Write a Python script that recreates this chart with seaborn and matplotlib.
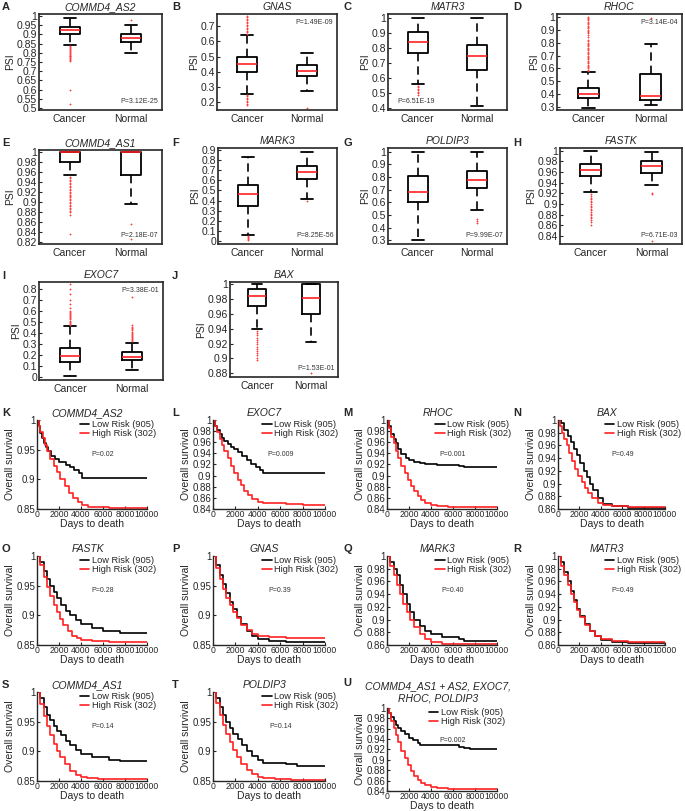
import numpy as np
import pandas as pd
import matplotlib
matplotlib.use("Agg")
import matplotlib.pyplot as plt
import seaborn as sns

# ---------------- DATA: box plots (PSI) ----------------
box_groups = ["Cancer", "Normal"]

# each entry: [whislo, q1, med, q3, whishi]
A_cancer = [0.84, 0.90, 0.922, 0.94, 0.99]
A_normal = [0.80, 0.86, 0.878, 0.90, 0.95]
A_cancer_out = [0.835, 0.83, 0.825, 0.82, 0.815, 0.81, 0.805, 0.80, 0.795, 0.79, 0.785, 0.78, 0.775, 0.77, 0.765, 0.76, 0.755, 0.60, 0.52]
A_normal_out = [0.98]

B_cancer = [0.255, 0.40, 0.45, 0.50, 0.645]
B_normal = [0.275, 0.37, 0.403, 0.445, 0.525]
B_cancer_out = [0.65, 0.66, 0.67, 0.68, 0.69, 0.70, 0.71, 0.72, 0.73, 0.74, 0.75, 0.76, 0.77,
                0.25, 0.24, 0.23, 0.22, 0.21, 0.20, 0.19, 0.18]
B_normal_out = [0.165]

C_cancer = [0.555, 0.765, 0.84, 0.905, 1.0]
C_normal = [0.41, 0.65, 0.745, 0.82, 0.995]
C_cancer_out = [0.545, 0.535, 0.525, 0.515, 0.505, 0.495, 0.485]
C_normal_out = []

D_cancer = [0.295, 0.37, 0.40, 0.45, 0.57]
D_normal = [0.32, 0.358, 0.39, 0.555, 0.79]
D_cancer_out = [0.58, 0.59, 0.60, 0.61, 0.62, 0.63, 0.64, 0.65, 0.66, 0.67, 0.68, 0.69, 0.70,
                0.71, 0.72, 0.73, 0.74, 0.75, 0.76, 0.77, 0.78, 0.79, 0.80, 0.81, 0.82, 0.84,
                0.86, 0.87, 0.88, 0.89, 0.90, 0.91, 0.92, 0.93, 0.94, 0.95, 0.96, 0.97, 0.98, 0.99, 1.0]
D_normal_out = [0.99]

E_cancer = [0.954, 0.981, 1.0, 1.0, 1.0]
E_normal = [0.895, 0.955, 1.0, 1.0, 1.0]
E_cancer_out = [0.951, 0.948, 0.945, 0.942, 0.939, 0.936, 0.933, 0.930, 0.927, 0.924, 0.921,
                0.918, 0.915, 0.912, 0.909, 0.906, 0.903, 0.900, 0.897, 0.894, 0.891, 0.888,
                0.885, 0.882, 0.879, 0.873, 0.836]
E_normal_out = [0.856, 0.825]

F_cancer = [0.055, 0.35, 0.46, 0.55, 0.83]
F_normal = [0.415, 0.61, 0.685, 0.745, 0.88]
F_cancer_out = [0.045, 0.035, 0.025, 0.015, 0.005]
F_normal_out = [0.40]

G_cancer = [0.30, 0.60, 0.685, 0.805, 1.0]
G_normal = [0.54, 0.71, 0.775, 0.845, 1.0]
G_cancer_out = []
G_normal_out = [0.47, 0.45, 0.44]

H_cancer = [0.922, 0.953, 0.964, 0.975, 1.0]
H_normal = [0.936, 0.958, 0.972, 0.980, 0.997]
H_cancer_out = [0.918, 0.915, 0.912, 0.909, 0.906, 0.903, 0.900, 0.897, 0.894, 0.891, 0.888,
                0.885, 0.882, 0.879, 0.876, 0.873, 0.870, 0.866, 0.861]
H_normal_out = [0.921, 0.918, 0.831]

I_cancer = [0.01, 0.13, 0.19, 0.265, 0.46]
I_normal = [0.065, 0.15, 0.175, 0.22, 0.31]
I_cancer_out = [0.47, 0.48, 0.49, 0.50, 0.51, 0.52, 0.53, 0.54, 0.55, 0.56, 0.57, 0.58, 0.59,
                0.60, 0.62, 0.66, 0.70, 0.75, 0.80, 0.84]
I_normal_out = [0.32, 0.33, 0.34, 0.35, 0.36, 0.37, 0.38, 0.39, 0.40, 0.41, 0.42, 0.43, 0.44,
                0.45, 0.47, 0.72]

J_cancer = [0.94, 0.971, 0.984, 0.994, 1.0]
J_normal = [0.922, 0.96, 0.981, 1.0, 1.0]
J_cancer_out = [0.937, 0.934, 0.931, 0.928, 0.925, 0.922, 0.919, 0.916, 0.913, 0.910, 0.907,
                0.904, 0.901, 0.898]
J_normal_out = [0.88]

# ---------------- DATA: Kaplan-Meier curves ----------------
km_groups = ["Low Risk (905)", "High Risk (302)"]

K_low_days = [0, 150, 300, 450, 600, 800, 1000, 1300, 1600, 2000, 2600, 3000, 3400, 3800, 4100, 10000]
K_low_surv = [1, 0.99, 0.978, 0.97, 0.962, 0.955, 0.948, 0.94, 0.935, 0.93, 0.925, 0.92, 0.915, 0.91, 0.903, 0.903]
K_high_days = [0, 150, 300, 500, 700, 900, 1200, 1500, 1800, 2100, 2500, 2900, 3300, 3700, 4100, 4600, 5500, 6500, 10000]
K_high_surv = [1, 0.99, 0.98, 0.97, 0.958, 0.948, 0.935, 0.923, 0.912, 0.9, 0.888, 0.877, 0.868, 0.861, 0.857, 0.854, 0.853, 0.851, 0.851]

L_low_days = [0, 200, 400, 600, 800, 1000, 1300, 1600, 1900, 2200, 2600, 3000, 3400, 3800, 4200, 4500, 10000]
L_low_surv = [1, 0.99, 0.982, 0.975, 0.968, 0.962, 0.957, 0.952, 0.948, 0.942, 0.935, 0.928, 0.92, 0.915, 0.91, 0.905, 0.905]
L_high_days = [0, 200, 400, 600, 800, 1000, 1300, 1600, 1900, 2200, 2500, 2800, 3100, 3500, 4000, 4500, 5500, 6500, 8000, 10000]
L_high_surv = [1, 0.99, 0.978, 0.965, 0.955, 0.945, 0.932, 0.918, 0.905, 0.893, 0.883, 0.873, 0.865, 0.858, 0.853, 0.851, 0.85, 0.849, 0.848, 0.847]

M_low_days = [0, 200, 400, 600, 800, 1000, 1300, 1700, 2000, 2500, 3000, 3500, 4500, 6500, 7000, 10000]
M_low_surv = [1, 0.99, 0.975, 0.965, 0.958, 0.948, 0.938, 0.932, 0.928, 0.924, 0.922, 0.92, 0.919, 0.918, 0.915, 0.915]
M_high_days = [0, 200, 400, 600, 800, 1000, 1300, 1600, 1900, 2200, 2500, 2800, 3100, 3500, 4000, 4500, 5500, 10000]
M_high_surv = [1, 0.985, 0.97, 0.958, 0.945, 0.932, 0.918, 0.905, 0.893, 0.882, 0.872, 0.864, 0.857, 0.851, 0.847, 0.845, 0.844, 0.844]

N_low_days = [0, 300, 600, 900, 1200, 1500, 1800, 2100, 2400, 2700, 3000, 3300, 3700, 4200, 5000, 6500, 10000]
N_low_surv = [1, 0.995, 0.985, 0.975, 0.965, 0.955, 0.945, 0.932, 0.92, 0.91, 0.9, 0.89, 0.878, 0.868, 0.865, 0.862, 0.862]
N_high_days = [0, 200, 400, 600, 800, 1000, 1300, 1600, 1900, 2200, 2500, 2800, 3200, 3700, 4200, 5000, 6500, 10000]
N_high_surv = [1, 0.99, 0.98, 0.97, 0.96, 0.948, 0.935, 0.923, 0.912, 0.902, 0.893, 0.885, 0.877, 0.87, 0.866, 0.865, 0.863, 0.863]

O_low_days = [0, 300, 600, 900, 1200, 1500, 1800, 2200, 2600, 3000, 3500, 4000, 5000, 6000, 7500, 10000]
O_low_surv = [1, 0.99, 0.975, 0.962, 0.95, 0.94, 0.93, 0.918, 0.908, 0.9, 0.892, 0.885, 0.878, 0.873, 0.87, 0.87]
O_high_days = [0, 300, 600, 900, 1200, 1500, 1800, 2100, 2400, 2800, 3200, 3600, 4000, 5000, 6500, 10000]
O_high_surv = [1, 0.985, 0.965, 0.948, 0.932, 0.918, 0.905, 0.894, 0.884, 0.874, 0.866, 0.861, 0.858, 0.856, 0.855, 0.855]

P_low_days = [0, 300, 600, 900, 1200, 1500, 1800, 2100, 2500, 3000, 3500, 4000, 5000, 6500, 10000]
P_low_surv = [1, 0.985, 0.968, 0.952, 0.937, 0.922, 0.91, 0.898, 0.885, 0.873, 0.865, 0.86, 0.857, 0.855, 0.855]
P_high_days = [0, 300, 600, 900, 1200, 1500, 1800, 2100, 2500, 3000, 3500, 4000, 5000, 6500, 10000]
P_high_surv = [1, 0.98, 0.962, 0.945, 0.93, 0.917, 0.905, 0.895, 0.884, 0.875, 0.868, 0.865, 0.863, 0.862, 0.862]

Q_low_days = [0, 300, 600, 900, 1200, 1500, 1800, 2100, 2500, 3000, 3500, 4000, 5000, 6500, 7000, 10000]
Q_low_surv = [1, 0.99, 0.98, 0.97, 0.955, 0.94, 0.925, 0.912, 0.9, 0.89, 0.882, 0.877, 0.873, 0.87, 0.866, 0.866]
Q_high_days = [0, 300, 600, 900, 1200, 1500, 1800, 2100, 2500, 3000, 3500, 4000, 5000, 10000]
Q_high_surv = [1, 0.985, 0.97, 0.955, 0.94, 0.925, 0.912, 0.9, 0.888, 0.877, 0.87, 0.865, 0.862, 0.862]

R_low_days = [0, 300, 600, 900, 1200, 1500, 1800, 2100, 2500, 3000, 3500, 4000, 5000, 6500, 10000]
R_low_surv = [1, 0.99, 0.975, 0.96, 0.945, 0.93, 0.917, 0.905, 0.893, 0.882, 0.874, 0.868, 0.865, 0.863, 0.862]
R_high_days = [0, 300, 600, 900, 1200, 1500, 1800, 2100, 2500, 3000, 3500, 4000, 5000, 6500, 10000]
R_high_surv = [1, 0.985, 0.97, 0.955, 0.94, 0.927, 0.915, 0.904, 0.892, 0.882, 0.874, 0.869, 0.866, 0.864, 0.863]

S_low_days = [0, 300, 600, 900, 1200, 1500, 1800, 2200, 2600, 3000, 3500, 4000, 5000, 6500, 7500, 10000]
S_low_surv = [1, 0.99, 0.975, 0.962, 0.952, 0.943, 0.935, 0.927, 0.918, 0.91, 0.903, 0.896, 0.89, 0.886, 0.883, 0.883]
S_high_days = [0, 300, 600, 900, 1200, 1500, 1800, 2100, 2500, 3000, 3500, 4000, 4500, 5500, 7000, 10000]
S_high_surv = [1, 0.98, 0.96, 0.942, 0.927, 0.913, 0.9, 0.89, 0.878, 0.867, 0.86, 0.857, 0.855, 0.854, 0.853, 0.853]

T_low_days = [0, 300, 600, 900, 1200, 1500, 1800, 2200, 2600, 3000, 3500, 4000, 4500, 6500, 7500, 10000]
T_low_surv = [1, 0.99, 0.975, 0.962, 0.95, 0.94, 0.93, 0.92, 0.91, 0.9, 0.892, 0.886, 0.88, 0.878, 0.875, 0.875]
T_high_days = [0, 300, 600, 900, 1200, 1500, 1800, 2100, 2500, 3000, 3500, 4000, 4500, 5500, 7000, 10000]
T_high_surv = [1, 0.982, 0.962, 0.945, 0.93, 0.915, 0.902, 0.891, 0.879, 0.868, 0.861, 0.857, 0.855, 0.853, 0.852, 0.852]

U_low_days = [0, 200, 400, 600, 800, 1000, 1300, 1600, 2000, 2400, 2800, 3000, 6500, 7000, 7500, 10000]
U_low_surv = [1, 0.99, 0.982, 0.975, 0.968, 0.962, 0.955, 0.95, 0.943, 0.938, 0.932, 0.928, 0.925, 0.922, 0.92, 0.92]
U_high_days = [0, 200, 400, 600, 800, 1000, 1300, 1600, 1900, 2200, 2500, 2800, 3100, 3500, 4000, 4500, 5500, 6500, 10000]
U_high_surv = [1, 0.99, 0.975, 0.962, 0.948, 0.935, 0.918, 0.903, 0.89, 0.879, 0.869, 0.862, 0.856, 0.851, 0.847, 0.845, 0.844, 0.844, 0.843]

# ---------------- STYLE ----------------
sns.set_theme(style="ticks")
plt.rcParams["font.family"] = ["Liberation Sans", "DejaVu Sans"]
plt.rcParams["axes.linewidth"] = 1.0

W, H = 685, 811
fig = plt.figure(figsize=(W / 100, H / 100), dpi=100)


def rect(l, t, r, b):
    return [l / W, 1 - b / H, (r - l) / W, (b - t) / H]


def fmt(v, pos=None):
    return f"{v:g}"


def letter(ch, x, y):
    fig.text(x / W, 1 - y / H, ch, fontsize=8, fontweight="bold", ha="left", va="center")


def box_panel(r, cancer, normal, c_out, n_out, ylim, yticks, title, ptext, ploc):
    ax = fig.add_axes(rect(*r))
    stats = []
    for lab, s, o in zip(box_groups, [cancer, normal], [c_out, n_out]):
        stats.append(dict(label=lab, whislo=s[0], q1=s[1], med=s[2], q3=s[3], whishi=s[4], fliers=o))
    ax.bxp(stats, positions=[1, 2], widths=0.33, capwidths=0.2, showfliers=True,
           boxprops=dict(color="black", lw=1.3),
           medianprops=dict(color="#ff2020", lw=1.2),
           whiskerprops=dict(color="black", lw=1.2, ls=(0, (5, 3))),
           capprops=dict(color="black", lw=1.3),
           flierprops=dict(marker="+", markeredgecolor="#ff4040", markersize=1.8, mew=0.6, ls="none"))
    ax.set_xlim(0.5, 2.5)
    ax.set_ylim(*ylim)
    ax.set_yticks(yticks)
    ax.yaxis.set_major_formatter(matplotlib.ticker.FuncFormatter(fmt))
    ax.set_xticks([1, 2])
    ax.set_xticklabels(box_groups)
    ax.tick_params(direction="in", length=2, width=0.8, labelsize=7.5, pad=1.5)
    ax.tick_params(axis="x", length=0, pad=3)
    for s in ax.spines.values():
        s.set_linewidth(1.2)
    ax.set_ylabel("PSI", fontsize=7.5, labelpad=1)
    ax.set_title(title, fontsize=7.5, style="italic", pad=3)
    pos = {"br": (0.97, 0.05, "right", "bottom"), "tr": (0.97, 0.95, "right", "top"),
           "bl": (0.08, 0.05, "left", "bottom")}[ploc]
    ax.text(pos[0], pos[1], ptext, transform=ax.transAxes, fontsize=5, color="#333333",
            ha=pos[2], va=pos[3])
    return ax


def km_panel(r, low_d, low_s, high_d, high_s, ylim, yticks, title, ptext, leg_dx, tpad=3):
    ax = fig.add_axes(rect(*r))
    df = pd.DataFrame({
        "days": list(low_d) + list(high_d),
        "surv": list(low_s) + list(high_s),
        "group": [km_groups[0]] * len(low_d) + [km_groups[1]] * len(high_d),
    })
    sns.lineplot(data=df, x="days", y="surv", hue="group", hue_order=km_groups,
                 palette=["black", "#ff2020"], estimator=None, drawstyle="steps-post",
                 lw=1.2, ax=ax)
    ax.set_xlim(0, 10000)
    ax.set_ylim(*ylim)
    ax.set_yticks(yticks)
    ax.set_xticks([0, 2000, 4000, 6000, 8000, 10000])
    ax.yaxis.set_major_formatter(matplotlib.ticker.FuncFormatter(fmt))
    ax.xaxis.set_major_formatter(matplotlib.ticker.FuncFormatter(fmt))
    sns.despine(ax=ax)
    for s in ax.spines.values():
        s.set_linewidth(1.0)
    ax.tick_params(direction="in", length=2, width=0.8, labelsize=7, pad=1)
    ax.tick_params(axis="x", labelsize=6.2)
    ax.set_xlabel("Days to death", fontsize=7.5, labelpad=0)
    ax.set_ylabel("Overall survival", fontsize=7.5, labelpad=1)
    ax.set_title(title, fontsize=7.5, style="italic", pad=tpad, linespacing=1.3, x=0.46)
    ax.legend(loc="upper left", bbox_to_anchor=(leg_dx, 1.0), frameon=False,
              fontsize=6.7, handlelength=1.0, handletextpad=0.3, labelspacing=0.05,
              borderpad=0, borderaxespad=0)
    ax.text(0.6, 0.61, ptext, transform=ax.transAxes, fontsize=5, color="#333333",
            ha="center", va="center")
    return ax


# ---------------- BOX PANELS ----------------
box_panel((39, 14, 162, 110), A_cancer, A_normal, A_cancer_out, A_normal_out, (0.49, 1.01),
          [0.5, 0.55, 0.6, 0.65, 0.7, 0.75, 0.8, 0.85, 0.9, 0.95, 1.0], "COMMD4_AS2", "P=3.12E-25", "br")
box_panel((217, 14, 337, 110), B_cancer, B_normal, B_cancer_out, B_normal_out, (0.15, 0.78),
          [0.2, 0.3, 0.4, 0.5, 0.6, 0.7], "GNAS", "P=1.49E-09", "tr")
box_panel((388, 14, 507, 110), C_cancer, C_normal, C_cancer_out, C_normal_out, (0.385, 1.025),
          [0.4, 0.5, 0.6, 0.7, 0.8, 0.9, 1.0], "MATR3", "P=6.51E-19", "bl")
box_panel((557, 14, 682, 110), D_cancer, D_normal, D_cancer_out, D_normal_out, (0.28, 1.02),
          [0.3, 0.4, 0.5, 0.6, 0.7, 0.8, 0.9, 1.0], "RHOC", "P=3.14E-04", "tr")

box_panel((39, 150, 162, 244), E_cancer, E_normal, E_cancer_out, E_normal_out, (0.815, 1.005),
          [0.82, 0.84, 0.86, 0.88, 0.9, 0.92, 0.94, 0.96, 0.98, 1.0], "COMMD4_AS1", "P=2.18E-07", "br")
box_panel((218, 148, 337, 244), F_cancer, F_normal, F_cancer_out, F_normal_out, (-0.03, 0.92),
          [0, 0.1, 0.2, 0.3, 0.4, 0.5, 0.6, 0.7, 0.8, 0.9], "MARK3", "P=8.25E-56", "br")
box_panel((388, 148, 507, 244), G_cancer, G_normal, G_cancer_out, G_normal_out, (0.27, 1.03),
          [0.3, 0.4, 0.5, 0.6, 0.7, 0.8, 0.9, 1.0], "POLDIP3", "P=9.99E-07", "br")
box_panel((560, 148, 682, 244), H_cancer, H_normal, H_cancer_out, H_normal_out, (0.825, 1.005),
          [0.84, 0.86, 0.88, 0.9, 0.92, 0.94, 0.96, 0.98, 1.0], "FASTK", "P=6.71E-03", "br")

box_panel((39, 282, 163, 380), I_cancer, I_normal, I_cancer_out, I_normal_out, (-0.03, 0.86),
          [0, 0.1, 0.2, 0.3, 0.4, 0.5, 0.6, 0.7, 0.8], "EXOC7", "P=3.38E-01", "tr")
box_panel((230, 282, 338, 377), J_cancer, J_normal, J_cancer_out, J_normal_out, (0.875, 1.003),
          [0.88, 0.9, 0.92, 0.94, 0.96, 0.98, 1.0], "BAX", "P=1.53E-01", "br")

# ---------------- KM PANELS ----------------
t05 = [0.85, 0.9, 0.95, 1.0]
t02_84 = [0.84, 0.86, 0.88, 0.9, 0.92, 0.94, 0.96, 0.98, 1.0]
t02_86 = [0.86, 0.88, 0.9, 0.92, 0.94, 0.96, 0.98, 1.0]

km_panel((37, 420, 147, 509), K_low_days, K_low_surv, K_high_days, K_high_surv, (0.85, 1.0), t05, "COMMD4_AS2", "P=0.02", 0.39)
km_panel((213, 420, 325, 509), L_low_days, L_low_surv, L_high_days, L_high_surv, (0.84, 1.0), t02_84, "EXOC7", "P=0.009", 0.44)
km_panel((387, 420, 497, 509), M_low_days, M_low_surv, M_high_days, M_high_surv, (0.84, 1.0), t02_84, "RHOC", "P=0.001", 0.44)
km_panel((558, 420, 665, 509), N_low_days, N_low_surv, N_high_days, N_high_surv, (0.86, 1.0), t02_86, "BAX", "P=0.49", 0.44)

km_panel((37, 556, 147, 645), O_low_days, O_low_surv, O_high_days, O_high_surv, (0.85, 1.0), t05, "FASTK", "P=0.28", 0.39)
km_panel((213, 556, 325, 645), P_low_days, P_low_surv, P_high_days, P_high_surv, (0.85, 1.0), t05, "GNAS", "P=0.39", 0.44)
km_panel((387, 556, 497, 645), Q_low_days, Q_low_surv, Q_high_days, Q_high_surv, (0.86, 1.0), t02_86, "MARK3", "P=0.40", 0.44)
km_panel((558, 556, 665, 645), R_low_days, R_low_surv, R_high_days, R_high_surv, (0.86, 1.0), t02_86, "MATR3", "P=0.49", 0.44)

km_panel((37, 692, 147, 781), S_low_days, S_low_surv, S_high_days, S_high_surv, (0.85, 1.0), t05, "COMMD4_AS1", "P=0.14", 0.39)
km_panel((213, 692, 325, 781), T_low_days, T_low_surv, T_high_days, T_high_surv, (0.85, 1.0), t05, "POLDIP3", "P=0.14", 0.44)
km_panel((387, 708, 497, 791), U_low_days, U_low_surv, U_high_days, U_high_surv, (0.84, 1.0), t02_84,
         "COMMD4_AS1 + AS2, EXOC7,\nRHOC, POLDIP3", "P=0.002", 0.38, tpad=5)

# ---------------- PANEL LETTERS ----------------
for ch, x, y in [("A", 2, 7), ("B", 172, 7), ("C", 343, 7), ("D", 513, 7),
                 ("E", 2, 143), ("F", 172, 143), ("G", 343, 143), ("H", 513, 143),
                 ("I", 2, 276), ("J", 172, 276),
                 ("K", 2, 413), ("L", 172, 413), ("M", 343, 413), ("N", 513, 413),
                 ("O", 2, 549), ("P", 172, 549), ("Q", 343, 549), ("R", 513, 549),
                 ("S", 2, 685), ("T", 172, 685), ("U", 343, 683)]:
    letter(ch, x, y)

fig.savefig("out.png", dpi=100)
